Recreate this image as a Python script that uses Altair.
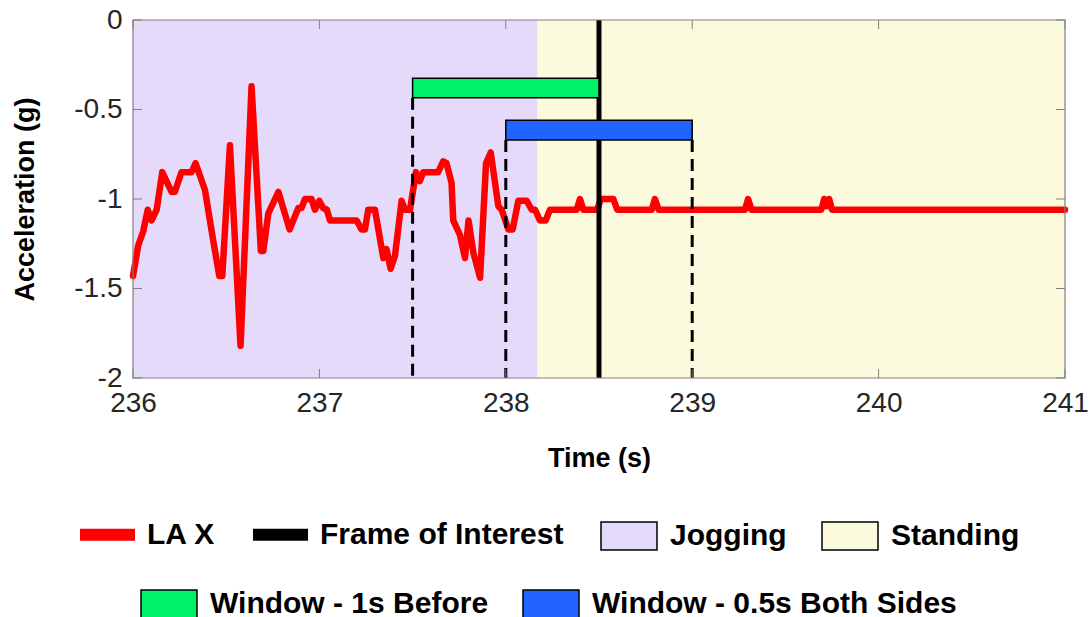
import altair as alt
import pandas as pd

# ---- signal ----
time_s = [236.000, 236.028, 236.055, 236.079, 236.100, 236.127, 236.157, 236.207, 236.225, 236.260,
          236.314, 236.336, 236.386, 236.430, 236.463, 236.479, 236.520, 236.577, 236.636, 236.686,
          236.699, 236.726, 236.780, 236.840, 236.887, 236.904, 236.923, 236.958, 236.976, 236.999,
          237.020, 237.040, 237.057, 237.200, 237.226, 237.244, 237.262, 237.298, 237.343, 237.360,
          237.382, 237.405, 237.441, 237.459, 237.486, 237.518, 237.539, 237.557, 237.637, 237.664,
          237.682, 237.709, 237.718, 237.754, 237.781, 237.800, 237.826, 237.862, 237.894, 237.919,
          237.960, 237.978, 238.014, 238.037, 238.067, 238.112, 238.139, 238.157, 238.183, 238.214,
          238.237, 238.380, 238.398, 238.416, 238.490, 238.510, 238.577, 238.598, 238.783, 238.800,
          238.820, 239.283, 239.300, 239.318, 239.693, 239.708, 239.722, 239.735, 239.750, 241.000]
acc_g = [-1.43, -1.26, -1.18, -1.06, -1.12, -1.06, -0.85, -0.96, -0.96, -0.85,
         -0.85, -0.80, -0.95, -1.23, -1.43, -1.43, -0.70, -1.82, -0.37, -1.29,
         -1.29, -1.08, -0.96, -1.17, -1.05, -1.05, -1.00, -1.00, -1.06, -1.01,
         -1.05, -1.06, -1.12, -1.12, -1.17, -1.17, -1.06, -1.06, -1.33, -1.28,
         -1.39, -1.32, -1.01, -1.06, -1.06, -0.85, -0.90, -0.85, -0.85, -0.79,
         -0.80, -0.91, -1.12, -1.20, -1.33, -1.12, -1.30, -1.44, -0.80, -0.74,
         -1.04, -1.06, -1.17, -1.17, -1.01, -1.01, -1.06, -1.06, -1.12, -1.12,
         -1.06, -1.06, -1.00, -1.06, -1.06, -1.00, -1.00, -1.06, -1.06, -1.00,
         -1.06, -1.06, -1.00, -1.06, -1.06, -1.00, -1.04, -1.00, -1.06, -1.06]
signal_name = "LA X"

# ---- activity phases ----
phase_labels = ["Jogging", "Standing"]
phase_start = [236.0, 238.17]
phase_end = [238.17, 241.0]
phase_colors = ["#E6DAFA", "#FCFADC"]

# ---- frame of interest ----
frame_name = "Frame of Interest"
frame_time = [238.5]

# ---- windows ----
window_labels = ["Window - 1s Before", "Window - 0.5s Both Sides"]
window_start = [237.5, 238.0]
window_end = [238.5, 239.0]
window_top = [-0.325, -0.56]
window_bottom = [-0.435, -0.67]
window_colors = ["#00F06A", "#2164FF"]

dash_time = [237.5, 238.0, 239.0]
dash_top = [-0.435, -0.67, -0.67]

# ---- axes ----
x_ticks = [236, 237, 238, 239, 240, 241]
y_ticks = [0, -0.5, -1, -1.5, -2]
x_range = [236, 241]
y_range = [-2, 0]

W, H = 932, 358
FONT = "Liberation Sans"
XT, YT = "Time (s)", "Acceleration (g)"
xs = alt.Scale(domain=x_range, nice=False, zero=False)
ys = alt.Scale(domain=y_range, nice=False, zero=False)

sig_df = pd.DataFrame({"t": time_s, "a": acc_g, "s": signal_name})
bg_df = pd.DataFrame({"phase": phase_labels, "start": phase_start, "end": phase_end,
                      "lo": y_range[0], "hi": y_range[1]})
frame_df = pd.DataFrame({"t": frame_time, "lo": y_range[0], "hi": y_range[1], "s": frame_name})
win_df = pd.DataFrame({"w": window_labels, "start": window_start, "end": window_end,
                       "top": window_top, "bot": window_bottom})
dash_df = pd.DataFrame({"t": dash_time, "top": dash_top, "bot": y_range[0]})
border_df = pd.DataFrame({"start": [x_range[0]], "end": [x_range[1]], "lo": [y_range[0]], "hi": [y_range[1]]})
xt_df = pd.DataFrame({"v": x_ticks})
yt_df = pd.DataFrame({"v": y_ticks})

common = dict(title=None, orient="none", direction="horizontal", columns=2,
              labelFont=FONT, labelFontSize=30, labelFontWeight="bold", labelColor="black",
              labelLimit=0, padding=0, symbolOpacity=1)
fill_leg = dict(common, symbolType="M-1,-0.5H1V0.5H-1Z", symbolSize=3136,
                symbolStrokeColor="black", symbolStrokeWidth=1.5, labelOffset=12)
stroke_leg = dict(common, symbolType="M-1,0H1", symbolSize=3025, symbolStrokeWidth=12,
                  labelOffset=6, columnPadding=13, legendX=-59, legendY=481)

stroke_scale = alt.Scale(domain=[signal_name, frame_name], range=["#FF0000", "#000000"])

bg = alt.Chart(bg_df).mark_rect().encode(
    x=alt.X("start:Q", scale=xs, title=XT,
            axis=alt.Axis(values=x_ticks, format="d", labelFlush=False)),
    x2="end:Q",
    y=alt.Y("lo:Q", scale=ys, title=YT,
            axis=alt.Axis(values=y_ticks, labelExpr="datum.value + ''")),
    y2="hi:Q",
    fill=alt.Fill("phase:N", scale=alt.Scale(domain=phase_labels, range=phase_colors),
                  legend=alt.Legend(**fill_leg, columnPadding=32, legendX=467, legendY=487)),
)

sig = alt.Chart(sig_df).mark_line(strokeWidth=6.5, strokeJoin="round", strokeCap="round").encode(
    x=alt.X("t:Q", scale=xs, title=XT),
    y=alt.Y("a:Q", scale=ys, title=YT),
    stroke=alt.Stroke("s:N", scale=stroke_scale, legend=alt.Legend(**stroke_leg)),
)

dashes = alt.Chart(dash_df).mark_rule(color="black", strokeWidth=3, strokeDash=[12, 7]).encode(
    x=alt.X("t:Q", scale=xs, title=XT),
    y=alt.Y("top:Q", scale=ys, title=YT),
    y2="bot:Q",
)

frame = alt.Chart(frame_df).mark_rule(strokeWidth=5).encode(
    x=alt.X("t:Q", scale=xs, title=XT),
    y=alt.Y("lo:Q", scale=ys, title=YT),
    y2="hi:Q",
    stroke=alt.Stroke("s:N", scale=stroke_scale, legend=alt.Legend(**stroke_leg)),
)

windows = alt.Chart(win_df).mark_rect(stroke="black", strokeWidth=1.5).encode(
    x=alt.X("start:Q", scale=xs, title=XT),
    x2="end:Q",
    y=alt.Y("top:Q", scale=ys, title=YT),
    y2="bot:Q",
    fill=alt.Fill("w:N", scale=alt.Scale(domain=window_labels, range=window_colors),
                  legend=alt.Legend(**fill_leg, columnPadding=31, legendX=7, legendY=555)),
)

border = alt.Chart(border_df).mark_rect(fillOpacity=0, stroke="#808080", strokeWidth=1.2).encode(
    x=alt.X("start:Q", scale=xs, title=XT),
    x2="end:Q",
    y=alt.Y("lo:Q", scale=ys, title=YT),
    y2="hi:Q",
)

tick_color = "#808080"
yt_left = alt.Chart(yt_df).mark_rule(color=tick_color, strokeWidth=1).encode(
    y=alt.Y("v:Q", scale=ys, title=YT), x=alt.value(0), x2=alt.value(9))
yt_right = alt.Chart(yt_df).mark_rule(color=tick_color, strokeWidth=1).encode(
    y=alt.Y("v:Q", scale=ys, title=YT), x=alt.value(W - 9), x2=alt.value(W))
xt_bot = alt.Chart(xt_df).mark_rule(color=tick_color, strokeWidth=1).encode(
    x=alt.X("v:Q", scale=xs, title=XT), y=alt.value(H), y2=alt.value(H - 9))
xt_top = alt.Chart(xt_df).mark_rule(color=tick_color, strokeWidth=1).encode(
    x=alt.X("v:Q", scale=xs, title=XT), y=alt.value(0), y2=alt.value(9))

chart = alt.layer(
    bg, sig, dashes, frame, windows, border, yt_left, yt_right, xt_bot, xt_top
).resolve_scale(
    fill="independent"
).properties(
    width=W, height=H,
    padding={"left": 133, "top": 20, "right": 27, "bottom": 239},
    autosize=alt.AutoSizeParams(type="none"),
).configure_view(
    stroke=None
).configure_axis(
    domain=False, ticks=False, tickSize=0, grid=False,
    labelFont=FONT, labelFontSize=28, labelColor="#262626",
    titleFont=FONT, titleFontSize=27, titleFontWeight="bold", titleColor="black",
).configure_axisX(
    labelPadding=11, titlePadding=28
).configure_axisY(
    labelPadding=11, titlePadding=34
)

chart.save("out.html", embed_options={"renderer": "svg", "actions": False})
